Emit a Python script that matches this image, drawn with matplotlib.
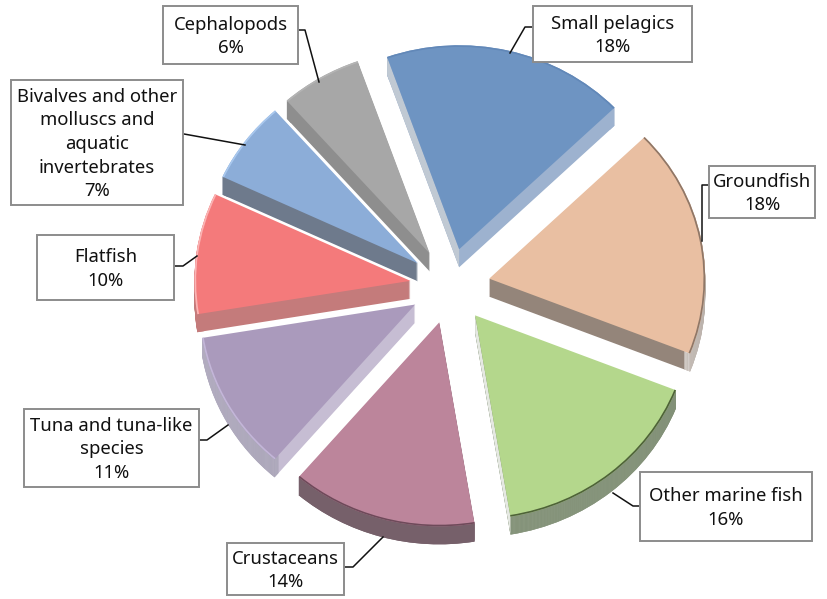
import math
import matplotlib
matplotlib.use("Agg")
import matplotlib.pyplot as plt
from matplotlib.lines import Line2D
from matplotlib.patches import Polygon, Rectangle
from matplotlib.transforms import Affine2D

W, H = 827, 599

# data, clockwise from the top
names = ["Small pelagics", "Groundfish", "Other marine fish", "Crustaceans",
         "Tuna and tuna-like\nspecies", "Flatfish",
         "Bivalves and other\nmolluscs and\naquatic\ninvertebrates", "Cephalopods"]
# slice sizes as measured, the labels show the rounded numbers
shares = [18.2, 18.2, 16.4, 13.9, 11.1, 9.6, 6.5, 6.1]
pct_labels = [18, 18, 16, 14, 11, 10, 7, 6]

# colours
top_cols = ["#6E94C2", "#E9BFA2", "#B4D78C", "#BC859B", "#AA9ABC", "#F47A7B", "#8CADD8", "#A7A7A7"]
side_cols = ["#9DB2CF", "#94857A", "#77866A", "#76606A", "#C6BDD3", "#C47B7B", "#6E7A8C", "#8E8E8E"]
rim_cols = ["#9DB2CF", "#DAD5D1", "#8A9880", "#76606A", "#A9A5B7", "#C47B7B", "#6E7A8C", "#8E8E8E"]
edge_cols = ["#6288B8", "#8F7767", "#4E6238", "#6E4A5A", "#C3B6D8", "#FBB4B4", "#A9C8EE", "#B4B4B4"]

# the thin lit side on the left of two slices: slice, which edge, colour
slivers = [(0, "theta2", "#C0C9D3"), (2, "theta1", "#E5E8E2")]

# label boxes in image pixels: left, top, right, bottom
boxes = [(533, 6, 692, 62), (709, 166, 815, 218), (640, 472, 812, 541), (227, 543, 344, 595),
         (24, 409, 199, 487), (37, 235, 174, 300), (11, 80, 183, 205), (163, 6, 298, 64)]
leaders = [[(533, 27), (525, 27), (510, 53)],
           [(709, 185), (702, 185), (702, 241)],
           [(640, 506), (633, 506), (613, 493)],
           [(344, 567), (353, 567), (383, 537)],
           [(199, 440), (207, 440), (228, 425)],
           [(174, 266), (183, 266), (197, 256)],
           [(184, 134), (245, 145)],
           [(298, 30), (305, 30), (319, 82)]]

cx, cy = 450, 286
rx, ry = 216, 204
depth = 18
start = 109.5
explode = [0.185] * len(shares)

plt.rcParams['font.family'] = ['Noto Sans', 'DejaVu Sans']

fig = plt.figure(figsize=(W / 100, H / 100), dpi=100)
ax = fig.add_axes([0, 0, 1, 1])


def draw_pie(cols, off=0.0, **wedge):
    wedge.setdefault('linewidth', 0)
    return ax.pie(shares, colors=cols, explode=explode, startangle=start, counterclock=False,
                  center=(0, -off), radius=1, wedgeprops=wedge, normalize=True)[0]


# the thick part of the pie is just copies going upward
for d in range(depth, 0, -1):
    draw_pie(side_cols, d / ry)
    draw_pie(rim_cols, d / ry, width=0.03)
top = draw_pie(top_cols)
edges = draw_pie(edge_cols, width=0.008)
for w in top + edges:
    w.set_zorder(2)

for i, which, col in slivers:
    w = top[i]
    a = math.radians(getattr(w, which))
    x0, y0 = w.center
    x1, y1 = x0 + math.cos(a), y0 + math.sin(a)
    dz = depth / ry
    ax.add_patch(Polygon([(x0, y0), (x1, y1), (x1, y1 - dz), (x0, y0 - dz)], closed=True,
                         facecolor=col, linewidth=0, zorder=1.5))

ax.set_aspect('auto')
ax.set_xlim(-cx / rx, (W - cx) / rx)
ax.set_ylim(-(H - cy) / ry, cy / ry)
ax.axis('off')

# overlay in image pixels for the callouts
px = Affine2D().scale(1 / W, -1 / H).translate(0, 1) + fig.transFigure

for name, pct, box, path in zip(names, pct_labels, boxes, leaders):
    x0, y0, x1, y1 = box
    fig.add_artist(Line2D([p[0] for p in path], [p[1] for p in path], color="#111111",
                          lw=1.1, transform=px, zorder=3))
    fig.add_artist(Rectangle((x0, y0), x1 - x0, y1 - y0, facecolor="white", edgecolor="#8C8C8C",
                             lw=1.4, transform=px, zorder=4))
    fig.text((x0 + x1) / 2 / W, 1 - ((y0 + y1) / 2 + 1.5) / H, "%s\n%d%%" % (name, pct),
             ha='center', va='center', fontsize=13.3, color="#111111", linespacing=1.4, zorder=5)

fig.savefig("out.png", dpi=100)
